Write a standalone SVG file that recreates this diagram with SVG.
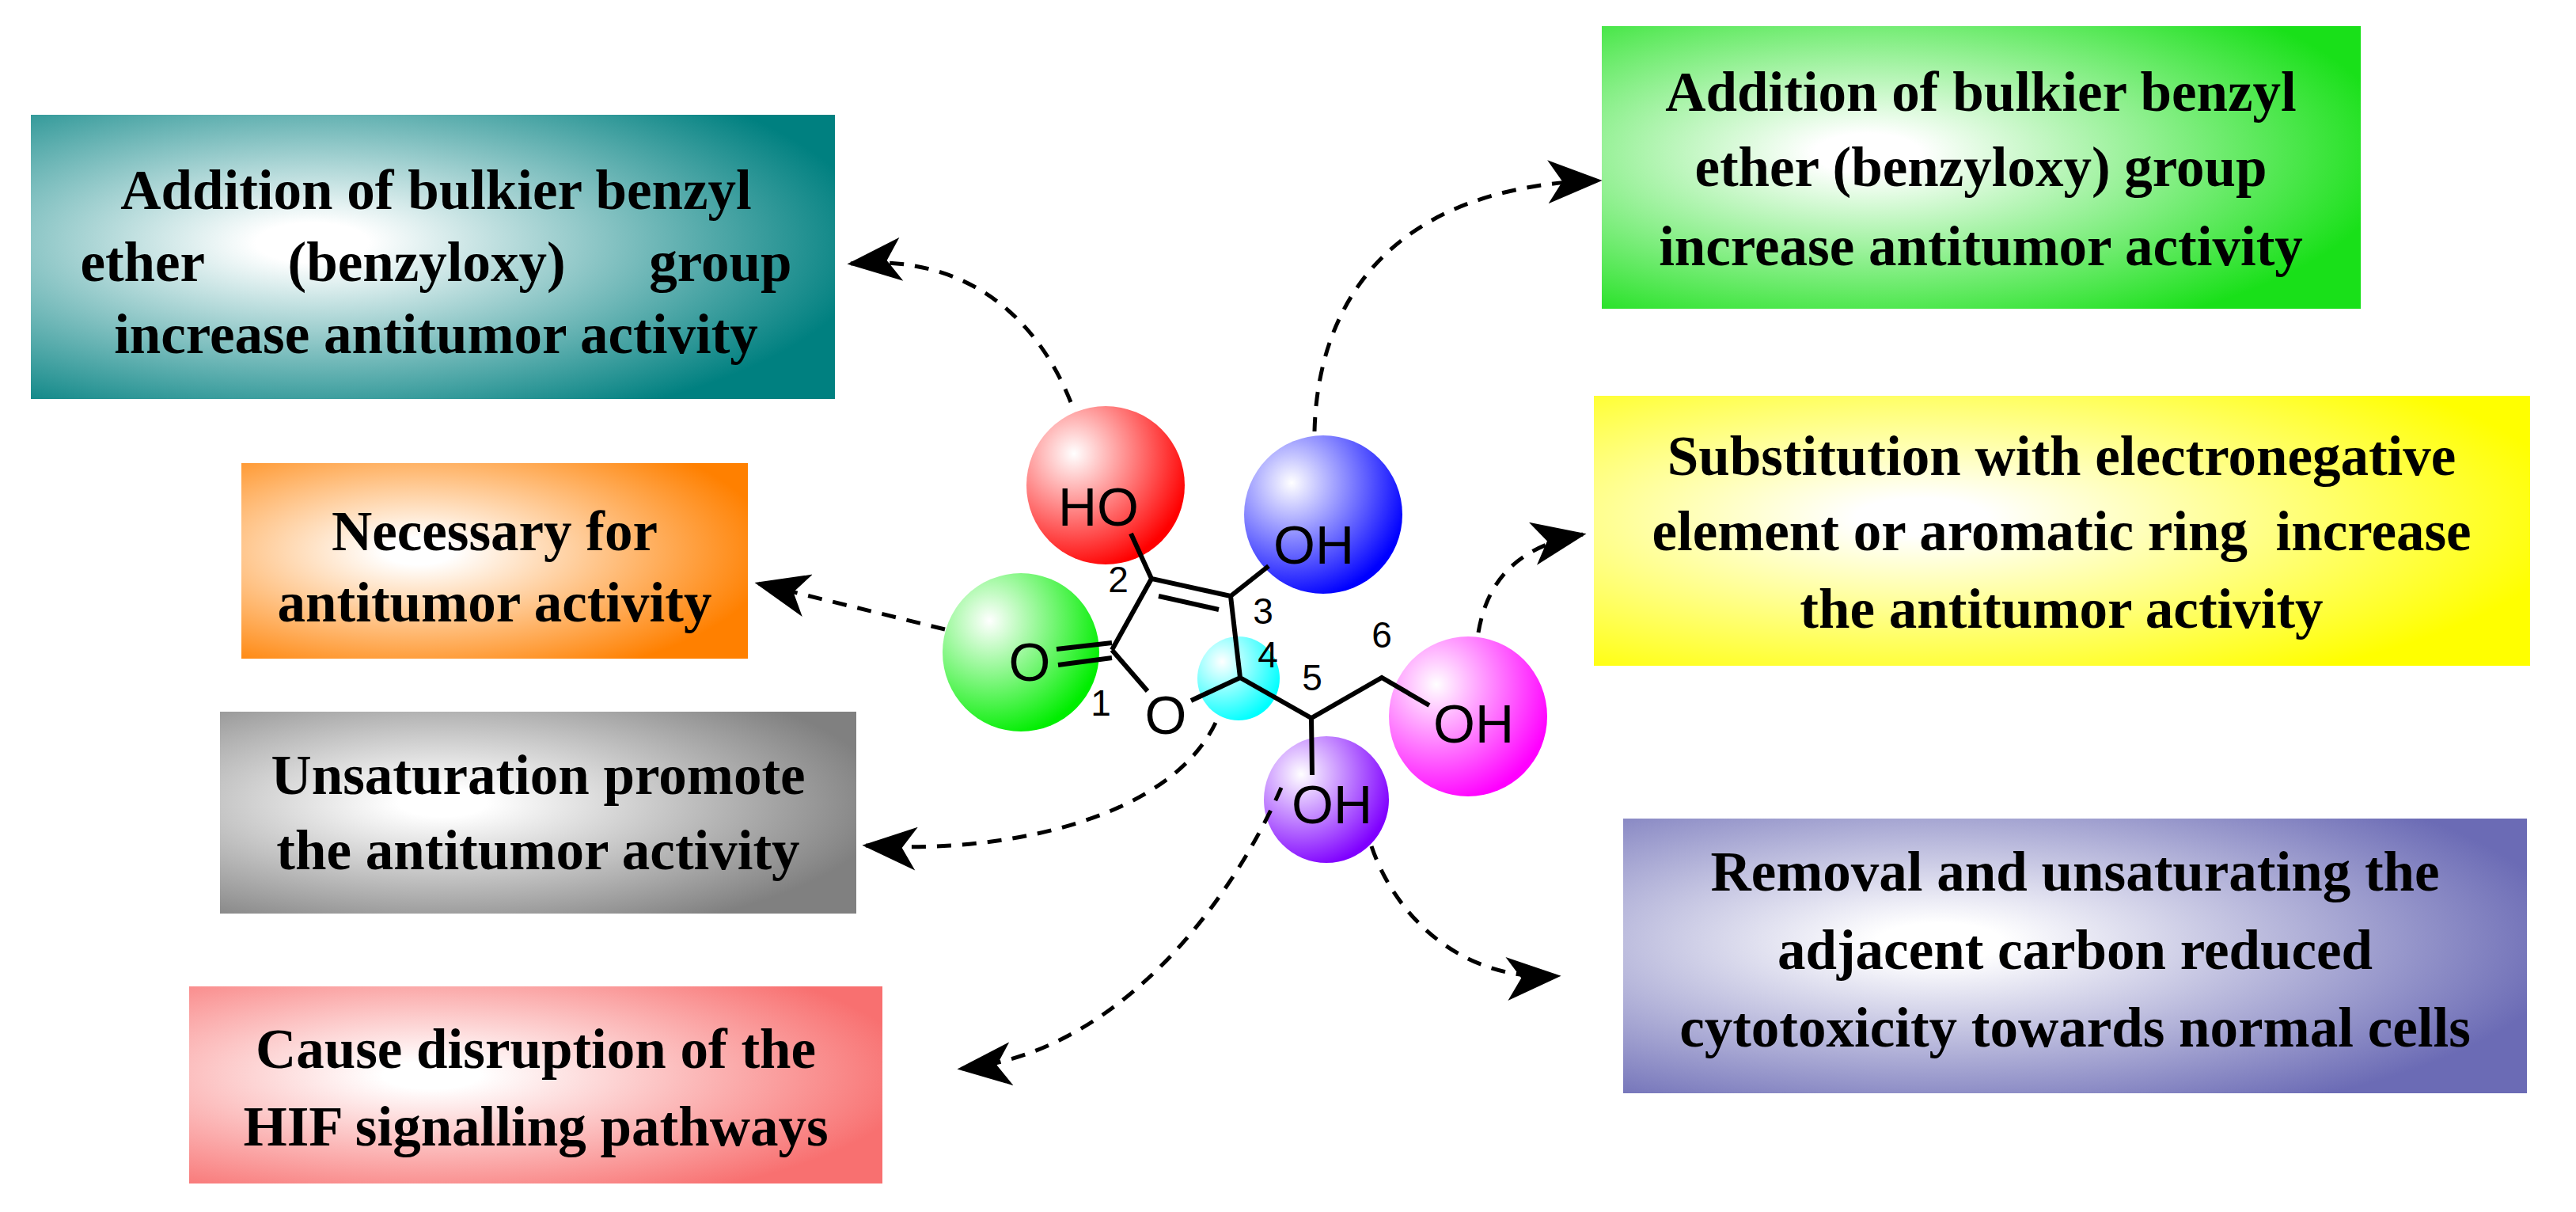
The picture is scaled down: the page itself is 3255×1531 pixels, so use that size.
<svg xmlns="http://www.w3.org/2000/svg" width="3255" height="1531" viewBox="0 0 3255 1531">
<style>
.bt{font-family:"Liberation Serif",serif;font-weight:bold;font-size:71px;fill:#000;text-anchor:middle;white-space:pre}
.at{font-family:"Liberation Sans",Arial,sans-serif;font-size:68px;fill:#000;text-anchor:middle}
.nm{font-family:"Liberation Sans",Arial,sans-serif;font-size:46px;fill:#000;text-anchor:middle}
.bd{stroke:#000;stroke-width:6;fill:none}
.cn{stroke:#000;stroke-width:5;fill:none;stroke-dasharray:18 14}
</style>
<defs>
<marker id="ah" viewBox="0 0 30 24" refX="28" refY="12" markerWidth="14" markerHeight="11" markerUnits="strokeWidth" orient="auto"><path d="M0,0 L30,12 L0,24 L8,12 Z" fill="#000"/></marker>
<radialGradient id="gTeal" cx="0.35" cy="0.45" r="0.7"><stop offset="0.1" stop-color="#fff"/><stop offset="1" stop-color="#008080"/></radialGradient>
<radialGradient id="gGreen" cx="0.35" cy="0.45" r="0.7"><stop offset="0.1" stop-color="#fff"/><stop offset="1" stop-color="#19e019"/></radialGradient>
<radialGradient id="gOrange" cx="0.35" cy="0.45" r="0.7"><stop offset="0.1" stop-color="#fff"/><stop offset="1" stop-color="#ff8000"/></radialGradient>
<radialGradient id="gYellow" cx="0.35" cy="0.45" r="0.7"><stop offset="0.1" stop-color="#fff"/><stop offset="1" stop-color="#ffff00"/></radialGradient>
<radialGradient id="gGray" cx="0.35" cy="0.45" r="0.7"><stop offset="0.1" stop-color="#fff"/><stop offset="1" stop-color="#808080"/></radialGradient>
<radialGradient id="gBlueP" cx="0.35" cy="0.45" r="0.7"><stop offset="0.1" stop-color="#fff"/><stop offset="1" stop-color="#6b6bb5"/></radialGradient>
<radialGradient id="gPink" cx="0.35" cy="0.45" r="0.7"><stop offset="0.1" stop-color="#fff"/><stop offset="1" stop-color="#f87070"/></radialGradient>
<radialGradient id="sRed" cx="0.3" cy="0.3" r="0.75"><stop offset="0" stop-color="#fff"/><stop offset="1" stop-color="#ff0000"/></radialGradient>
<radialGradient id="sBlue" cx="0.3" cy="0.3" r="0.75"><stop offset="0" stop-color="#fff"/><stop offset="1" stop-color="#0000ff"/></radialGradient>
<radialGradient id="sGreen" cx="0.3" cy="0.3" r="0.75"><stop offset="0" stop-color="#fff"/><stop offset="1" stop-color="#00ee00"/></radialGradient>
<radialGradient id="sCyan" cx="0.3" cy="0.3" r="0.75"><stop offset="0" stop-color="#fff"/><stop offset="1" stop-color="#00ffff"/></radialGradient>
<radialGradient id="sMag" cx="0.3" cy="0.3" r="0.75"><stop offset="0" stop-color="#fff"/><stop offset="1" stop-color="#ff00ff"/></radialGradient>
<radialGradient id="sPur" cx="0.3" cy="0.3" r="0.75"><stop offset="0" stop-color="#fff"/><stop offset="1" stop-color="#7f00ff"/></radialGradient>
</defs>
<rect width="3255" height="1531" fill="#fff"/>

<g id="box-teal"><rect x="39" y="145" width="1016" height="359" fill="url(#gTeal)"/>
<text class="bt" x="551" y="264">Addition of bulkier benzyl</text>
<text class="bt" x="551" y="355" word-spacing="88">ether (benzyloxy) group</text>
<text class="bt" x="551" y="446">increase antitumor activity</text></g>

<g id="box-green"><rect x="2024" y="33" width="959" height="357" fill="url(#gGreen)"/>
<text class="bt" x="2503" y="140">Addition of bulkier benzyl</text>
<text class="bt" x="2503" y="235">ether (benzyloxy) group</text>
<text class="bt" x="2503" y="335">increase antitumor activity</text></g>

<g id="box-orange"><rect x="305" y="585" width="640" height="247" fill="url(#gOrange)"/>
<text class="bt" x="625" y="695">Necessary for</text>
<text class="bt" x="625" y="785">antitumor activity</text></g>

<g id="box-yellow"><rect x="2014" y="500" width="1183" height="341" fill="url(#gYellow)"/>
<text class="bt" x="2605" y="600">Substitution with electronegative</text>
<text class="bt" x="2605" y="695">element or aromatic ring  increase</text>
<text class="bt" x="2605" y="793">the antitumor activity</text></g>

<g id="box-gray"><rect x="278" y="899" width="804" height="255" fill="url(#gGray)"/>
<text class="bt" x="680" y="1003">Unsaturation promote</text>
<text class="bt" x="680" y="1098">the antitumor activity</text></g>

<g id="box-bluepurple"><rect x="2051" y="1034" width="1142" height="347" fill="url(#gBlueP)"/>
<text class="bt" x="2622" y="1125">Removal and unsaturating the</text>
<text class="bt" x="2622" y="1224">adjacent carbon reduced</text>
<text class="bt" x="2622" y="1322">cytotoxicity towards normal cells</text></g>

<g id="box-pink"><rect x="239" y="1246" width="876" height="249" fill="url(#gPink)"/>
<text class="bt" x="677" y="1349">Cause disruption of the</text>
<text class="bt" x="677" y="1447">HIF signalling pathways</text></g>

<g id="molecule">
<ellipse cx="1397" cy="613" rx="100" ry="100" fill="url(#sRed)"/>
<ellipse cx="1672" cy="650" rx="100" ry="100" fill="url(#sBlue)"/>
<ellipse cx="1290" cy="824" rx="99" ry="100" fill="url(#sGreen)"/>
<ellipse cx="1565" cy="857" rx="52" ry="53" fill="url(#sCyan)"/>
<ellipse cx="1855" cy="905" rx="100" ry="101" fill="url(#sMag)"/>
<ellipse cx="1676" cy="1010" rx="79" ry="80" fill="url(#sPur)"/>
<path class="bd" d="M1429,674 L1455,731 L1555,753 M1464,753 L1540,770 M1555,753 L1603,715 M1555,753 L1567,856 M1455,731 L1405,821 M1335,820 L1405,812 M1337,840 L1405,831 M1405,821 L1450,873 M1505,885 L1567,856 L1657,907 L1746,856 L1806,891 M1657,907 L1658,979"/>
<text class="at" x="1388" y="664">HO</text>
<text class="at" x="1660" y="712">OH</text>
<text class="at" x="1301" y="860">O</text>
<text class="at" x="1473" y="927">O</text>
<text class="at" x="1862" y="938">OH</text>
<text class="at" x="1683" y="1040">OH</text>
<text class="nm" x="1391" y="904">1</text>
<text class="nm" x="1413" y="748">2</text>
<text class="nm" x="1596" y="788">3</text>
<text class="nm" x="1602" y="843">4</text>
<text class="nm" x="1658" y="872">5</text>
<text class="nm" x="1746" y="818">6</text>
</g>

<g id="connectors">
<path class="cn" marker-end="url(#ah)" d="M1353,508 C1310,400 1220,320 1075,333"/>
<path class="cn" marker-end="url(#ah)" d="M1661,545 C1665,380 1760,235 2020,228"/>
<path class="cn" marker-end="url(#ah)" d="M1194,795 L958,737"/>
<path class="cn" marker-end="url(#ah)" d="M1536,913 C1480,1030 1280,1080 1094,1068"/>
<path class="cn" marker-end="url(#ah)" d="M1619,995 C1560,1130 1420,1330 1214,1350"/>
<path class="cn" marker-end="url(#ah)" d="M1733,1069 C1760,1150 1840,1240 1968,1233"/>
<path class="cn" marker-end="url(#ah)" d="M1868,799 C1880,730 1920,690 2000,675"/>
</g>
</svg>
